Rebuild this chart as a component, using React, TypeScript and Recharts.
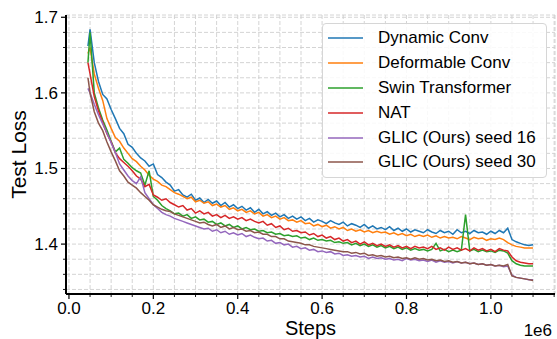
import React from "react";
import { LineChart, Line, XAxis, YAxis, CartesianGrid, Legend, Label } from "recharts";

const FONT = "'Liberation Sans', Arial, Helvetica, sans-serif";

// training steps, in units of 1e6
const steps = [
  0.045, 0.05, 0.06, 0.07, 0.08, 0.09, 0.1, 0.11, 0.12, 0.13,
  0.14, 0.15, 0.16, 0.17, 0.18, 0.19, 0.2, 0.21, 0.22, 0.23,
  0.24, 0.25, 0.26, 0.27, 0.28, 0.29, 0.3, 0.31, 0.32, 0.33,
  0.34, 0.35, 0.36, 0.37, 0.38, 0.39, 0.4, 0.41, 0.42, 0.43,
  0.44, 0.45, 0.46, 0.47, 0.48, 0.49, 0.5, 0.51, 0.52, 0.53,
  0.54, 0.55, 0.56, 0.57, 0.58, 0.59, 0.6, 0.61, 0.62, 0.63,
  0.64, 0.65, 0.66, 0.67, 0.68, 0.69, 0.7, 0.71, 0.72, 0.73,
  0.74, 0.75, 0.76, 0.77, 0.78, 0.79, 0.8, 0.81, 0.82, 0.83,
  0.84, 0.85, 0.86, 0.87, 0.88, 0.89, 0.9, 0.91, 0.92, 0.93,
  0.94, 0.95, 0.96, 0.97, 0.98, 0.99, 1.0, 1.01, 1.02, 1.03,
  1.04, 1.05, 1.06, 1.07, 1.08, 1.09, 1.1,
];

const dynamicConv = [
  1.662, 1.684, 1.64, 1.615, 1.598, 1.592, 1.578, 1.566, 1.553, 1.546,
  1.532, 1.528, 1.52, 1.514, 1.51, 1.503, 1.506, 1.492, 1.488, 1.482,
  1.478, 1.47, 1.472, 1.465, 1.462, 1.466, 1.458, 1.461, 1.455, 1.459,
  1.454, 1.457, 1.451, 1.455, 1.449, 1.452, 1.447, 1.45, 1.445, 1.448,
  1.442, 1.446, 1.44, 1.443, 1.438, 1.441, 1.436, 1.439, 1.434, 1.437,
  1.433, 1.436, 1.431, 1.434, 1.429, 1.432, 1.43, 1.427, 1.431, 1.428,
  1.426, 1.429, 1.424, 1.427, 1.425, 1.422, 1.426, 1.421, 1.424, 1.42,
  1.422, 1.419, 1.423, 1.418, 1.421, 1.417, 1.42, 1.416, 1.419, 1.417,
  1.415, 1.419, 1.416, 1.414, 1.418, 1.415, 1.417, 1.413, 1.419, 1.415,
  1.417, 1.414, 1.418, 1.415, 1.416, 1.413, 1.417, 1.414, 1.418, 1.415,
  1.421, 1.406, 1.403, 1.401, 1.399, 1.398, 1.399,
];

const deformableConv = [
  1.652, 1.66, 1.625, 1.606, 1.59, 1.566, 1.553, 1.541, 1.536, 1.527,
  1.52, 1.513, 1.509, 1.503, 1.498, 1.491, 1.486, 1.483, 1.478, 1.476,
  1.472, 1.468, 1.466, 1.463, 1.46, 1.462, 1.456, 1.458, 1.454, 1.456,
  1.451, 1.453, 1.449, 1.451, 1.446, 1.448, 1.444, 1.446, 1.442, 1.444,
  1.44, 1.442, 1.437, 1.439, 1.435, 1.437, 1.433, 1.435, 1.431, 1.432,
  1.429, 1.431, 1.427, 1.428, 1.424, 1.426, 1.423, 1.425, 1.421, 1.423,
  1.42, 1.422, 1.418, 1.42, 1.417, 1.419, 1.416, 1.418, 1.415, 1.417,
  1.415, 1.416, 1.413, 1.415, 1.412, 1.414, 1.411, 1.413, 1.41, 1.412,
  1.41, 1.412, 1.409, 1.411, 1.408, 1.41, 1.408, 1.409, 1.407, 1.41,
  1.408, 1.406, 1.409, 1.407, 1.408, 1.405, 1.407, 1.406, 1.408, 1.406,
  1.402, 1.399, 1.397, 1.396, 1.395, 1.395, 1.395,
];

const swinTransformer = [
  1.64, 1.68, 1.6, 1.58, 1.564, 1.551, 1.536, 1.522, 1.527, 1.512,
  1.507, 1.501, 1.497, 1.494, 1.478, 1.497, 1.463, 1.458, 1.451, 1.447,
  1.444, 1.44, 1.441, 1.437, 1.439, 1.434, 1.436, 1.432, 1.433, 1.429,
  1.43, 1.426, 1.428, 1.424, 1.426, 1.422, 1.424, 1.42, 1.422, 1.419,
  1.42, 1.417, 1.418, 1.415, 1.416, 1.413, 1.414, 1.411, 1.412, 1.41,
  1.411, 1.408, 1.409, 1.406, 1.408, 1.405, 1.406, 1.404, 1.405, 1.402,
  1.403, 1.401, 1.402, 1.399, 1.401, 1.398, 1.4, 1.397, 1.399, 1.396,
  1.398, 1.395, 1.397, 1.394, 1.396, 1.393, 1.395, 1.392, 1.394, 1.392,
  1.393, 1.391, 1.393, 1.401, 1.391, 1.393, 1.39, 1.392, 1.39, 1.392,
  1.439, 1.391, 1.393, 1.39, 1.392, 1.39, 1.391, 1.389, 1.392, 1.391,
  1.388, 1.378, 1.374, 1.372, 1.371, 1.371, 1.371,
];

const nat = [
  1.64, 1.625, 1.595, 1.576, 1.561, 1.546, 1.535, 1.521, 1.513, 1.508,
  1.503, 1.497, 1.49, 1.486, 1.476, 1.479, 1.465, 1.462, 1.458, 1.46,
  1.455, 1.452, 1.449, 1.451, 1.445, 1.447, 1.441, 1.444, 1.44, 1.442,
  1.437, 1.439, 1.435, 1.438, 1.434, 1.436, 1.433, 1.435, 1.431, 1.433,
  1.43, 1.428, 1.43, 1.425, 1.427, 1.422, 1.424, 1.419, 1.421, 1.417,
  1.418, 1.415, 1.416, 1.412, 1.414, 1.41, 1.412, 1.408, 1.41, 1.406,
  1.408, 1.404, 1.406, 1.402, 1.404, 1.4, 1.403, 1.399, 1.401, 1.398,
  1.4, 1.397, 1.399, 1.396, 1.398, 1.395, 1.397, 1.394, 1.397, 1.395,
  1.396, 1.394, 1.397, 1.393, 1.395, 1.392, 1.396, 1.393, 1.395, 1.392,
  1.394, 1.391, 1.395, 1.392, 1.394, 1.391, 1.393, 1.39, 1.394, 1.392,
  1.391, 1.383, 1.378, 1.376, 1.375, 1.374, 1.374,
];

const glicSeed16 = [
  1.606, 1.6, 1.585, 1.571, 1.559, 1.547, 1.534, 1.521, 1.506, 1.498,
  1.49, 1.484, 1.48, 1.489, 1.468, 1.46, 1.452, 1.447, 1.442, 1.439,
  1.437, 1.434, 1.432, 1.43, 1.428, 1.426, 1.424, 1.422, 1.42, 1.421,
  1.417, 1.419, 1.415, 1.417, 1.413, 1.415, 1.412, 1.414, 1.41, 1.412,
  1.409, 1.407, 1.408, 1.404, 1.405, 1.401, 1.402, 1.399, 1.4, 1.396,
  1.397, 1.394, 1.395, 1.392, 1.393, 1.39, 1.391, 1.389, 1.39, 1.387,
  1.388, 1.385, 1.386, 1.384, 1.385, 1.383, 1.384, 1.381, 1.383, 1.381,
  1.382, 1.38, 1.381, 1.379, 1.38, 1.378, 1.381, 1.379, 1.38, 1.378,
  1.379, 1.377, 1.379, 1.376, 1.378, 1.376, 1.377, 1.375, 1.377, 1.375,
  1.376, 1.374, 1.375, 1.373, 1.374, 1.372, 1.373, 1.371, 1.372, 1.37,
  1.371, 1.359, 1.356, 1.355, 1.354, 1.353, 1.353,
];

const glicSeed30 = [
  1.62, 1.6, 1.575, 1.56, 1.55, 1.535, 1.522, 1.51, 1.497, 1.49,
  1.482, 1.478, 1.474, 1.468, 1.463, 1.458, 1.452, 1.449, 1.446, 1.444,
  1.443, 1.44, 1.438, 1.436, 1.434, 1.432, 1.43, 1.428, 1.429, 1.426,
  1.424, 1.426, 1.422, 1.424, 1.42, 1.422, 1.419, 1.42, 1.417, 1.418,
  1.415, 1.416, 1.413, 1.413, 1.41, 1.41, 1.407, 1.407, 1.404, 1.403,
  1.402, 1.401, 1.399, 1.399, 1.397, 1.396, 1.395, 1.394, 1.393, 1.392,
  1.391, 1.39, 1.39, 1.388, 1.389, 1.387, 1.388, 1.385, 1.386, 1.384,
  1.385, 1.383, 1.384, 1.382, 1.383, 1.381, 1.382, 1.38, 1.382, 1.38,
  1.381, 1.379, 1.38, 1.378, 1.379, 1.377, 1.378, 1.376, 1.377, 1.375,
  1.376, 1.374, 1.375, 1.373, 1.374, 1.372, 1.373, 1.371, 1.372, 1.371,
  1.373, 1.358, 1.356, 1.355, 1.354, 1.353, 1.352,
];

const seriesNames = [
  "Dynamic Conv",
  "Deformable Conv",
  "Swin Transformer",
  "NAT",
  "GLIC (Ours) seed 16",
  "GLIC (Ours) seed 30",
];
const seriesColors = ["#1f77b4", "#ff7f0e", "#2ca02c", "#d62728", "#9467bd", "#8c564b"];
const seriesValues = [dynamicConv, deformableConv, swinTransformer, nat, glicSeed16, glicSeed30];

// major + minor tick positions
const xTicks = [
  0, 0.05, 0.1, 0.15, 0.2, 0.25, 0.3, 0.35, 0.4, 0.45, 0.5, 0.55,
  0.6, 0.65, 0.7, 0.75, 0.8, 0.85, 0.9, 0.95, 1.0, 1.05, 1.1, 1.15,
];
const yTicks = [
  1.34, 1.36, 1.38, 1.4, 1.42, 1.44, 1.46, 1.48, 1.5, 1.52,
  1.54, 1.56, 1.58, 1.6, 1.62, 1.64, 1.66, 1.68, 1.7,
];

const data = steps.map((s, i) => {
  const row: any = { step: s };
  seriesValues.forEach((vals, k) => {
    row["s" + k] = vals[i];
  });
  return row;
});

const isMultiple = (v: number, m: number) => Math.abs(v / m - Math.round(v / m)) < 1e-6;

const XTick = (props: any) => {
  const { x, y, payload } = props;
  const v = payload.value;
  const major = isMultiple(v, 0.2);
  return (
    <g>
      <line x1={x} x2={x} y1={y} y2={y + (major ? 5 : 3)} stroke="#000" strokeWidth={major ? 1.2 : 0.9} />
      {major && (
        <text x={x} y={y + 20} textAnchor="middle" fontSize={17} fontFamily={FONT} fill="#000">
          {v.toFixed(1)}
        </text>
      )}
    </g>
  );
};

const YTick = (props: any) => {
  const { x, y, payload } = props;
  const v = payload.value;
  const major = isMultiple(v, 0.1);
  return (
    <g>
      <line x1={x - (major ? 5 : 3)} x2={x} y1={y} y2={y} stroke="#000" strokeWidth={major ? 1.2 : 0.9} />
      {major && (
        <text x={x - 8} y={y + 6} textAnchor="end" fontSize={17} fontFamily={FONT} fill="#000">
          {v.toFixed(1)}
        </text>
      )}
    </g>
  );
};

const LegendBox = (props: any) => {
  const items = (props.payload || [])
    .slice()
    .sort((a: any, b: any) => seriesNames.indexOf(a.value) - seriesNames.indexOf(b.value));
  return (
    <div
      style={{
        width: 225,
        height: 155,
        boxSizing: "border-box",
        border: "1px solid #d6d6d6",
        borderRadius: 4,
        background: "rgba(255,255,255,0.85)",
        paddingTop: 2,
        fontFamily: FONT,
        fontSize: 17,
        color: "#000",
      }}
    >
      {items.map((it: any) => (
        <div key={it.value} style={{ display: "flex", alignItems: "center", height: 24.8 }}>
          <svg width={50} height={10} style={{ display: "block" }}>
            <line x1={5} x2={40} y1={5} y2={5} stroke={it.color} strokeWidth={1.6} />
          </svg>
          <span style={{ marginLeft: 5, whiteSpace: "nowrap" }}>{it.value}</span>
        </div>
      ))}
    </div>
  );
};

export default function App() {
  return (
    <div style={{ position: "absolute", left: 0, top: 0, background: "#fff", fontFamily: FONT }}>
      <LineChart width={557} height={339} data={data} margin={{ top: 15, right: 2, bottom: 0, left: 0 }}>
        <CartesianGrid stroke="#cfcfcf" strokeDasharray="4 2" strokeWidth={0.9} />
        <XAxis
          dataKey="step"
          type="number"
          domain={[-0.007, 1.152]}
          allowDataOverflow
          ticks={xTicks}
          interval={0}
          height={45}
          tickSize={0}
          tickMargin={0}
          tickLine={false}
          tick={<XTick />}
          axisLine={{ stroke: "#000", strokeWidth: 2 }}
        >
          <Label value="Steps" position="insideBottom" offset={4} style={{ fontSize: 20, fontFamily: FONT, fill: "#000" }} />
          <Label value="1e6" position="insideBottomRight" offset={3} style={{ fontSize: 17, fontFamily: FONT, fill: "#000" }} />
        </XAxis>
        <XAxis
          xAxisId="top"
          orientation="top"
          type="number"
          dataKey="step"
          domain={[-0.007, 1.152]}
          allowDataOverflow
          height={0}
          tick={false}
          tickLine={false}
          axisLine={{ stroke: "#000", strokeWidth: 2 }}
        />
        <YAxis
          type="number"
          domain={[1.334, 1.703]}
          allowDataOverflow
          ticks={yTicks}
          interval={0}
          width={66}
          tickSize={0}
          tickMargin={0}
          tickLine={false}
          tick={<YTick />}
          axisLine={{ stroke: "#000", strokeWidth: 2 }}
          label={{
            value: "Test Loss",
            angle: -90,
            position: "insideLeft",
            offset: 19,
            style: { textAnchor: "middle", fontSize: 21, fontFamily: FONT, fill: "#000" },
          }}
        />
        <YAxis
          yAxisId="right"
          orientation="right"
          type="number"
          domain={[1.334, 1.703]}
          allowDataOverflow
          width={0}
          tick={false}
          tickLine={false}
          axisLine={{ stroke: "#000", strokeWidth: 2 }}
        />
        <Legend
          layout="vertical"
          align="center"
          verticalAlign="middle"
          content={<LegendBox />}
          wrapperStyle={{ left: 322, top: 23, right: "auto", bottom: "auto", width: 225, height: 155 }}
        />
        {seriesNames.map((name, k) => (
          <Line
            key={name}
            type="linear"
            dataKey={"s" + k}
            name={name}
            stroke={seriesColors[k]}
            strokeWidth={1.5}
            dot={false}
            activeDot={false}
            isAnimationActive={false}
          />
        ))}
      </LineChart>
    </div>
  );
}
